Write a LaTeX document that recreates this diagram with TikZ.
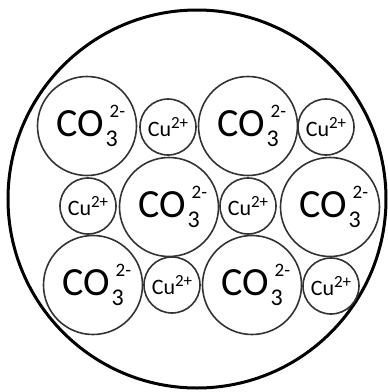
\documentclass[tikz,border=0pt]{standalone}
\usepackage{fontspec}
\setmainfont{Carlito}
\newcommand\carbion{{\fontsize{40}{40}\selectfont CO}\hspace{2pt}\makebox[0pt][l]{\hspace{4pt}\raisebox{19pt}{\fontsize{19}{19}\selectfont 2-}}\raisebox{-10pt}{\fontsize{24}{24}\selectfont 3}}
\newcommand\cuion{{\fontsize{22}{22}\selectfont Cu}\raisebox{8pt}{\fontsize{17}{17}\selectfont 2+}}
\tikzset{
  ball/.style={draw=black!80, line width=1.6pt, circle, inner sep=0pt},
  big/.style={ball, minimum size=99pt},
  small/.style={ball, minimum size=56pt},
}
\begin{document}
\begin{tikzpicture}[x=1pt,y=-1pt]
\useasboundingbox (0,0) rectangle (388,392);
\node[circle, draw=black, line width=3pt, minimum size=378pt, inner sep=0pt] (outer) at (197,199) {};
% row 1
\node[big] (c1) at (87,126) {\carbion};
\node[small] (u1) at (168,127) {\cuion};
\node[big] (c2) at (248,126) {\carbion};
\node[small] (u2) at (326,127) {\cuion};
% row 2
\node[small] (u3) at (88,206) {\cuion};
\node[big] (c3) at (169,207) {\carbion};
\node[small] (u4) at (248,206) {\cuion};
\node[big] (c4) at (330,207) {\carbion};
% row 3
\node[big] (c5) at (93,285) {\carbion};
\node[small] (u5) at (172,285) {\cuion};
\node[big] (c6) at (252,285) {\carbion};
\node[small] (u6) at (331,286) {\cuion};
\end{tikzpicture}
\end{document}
